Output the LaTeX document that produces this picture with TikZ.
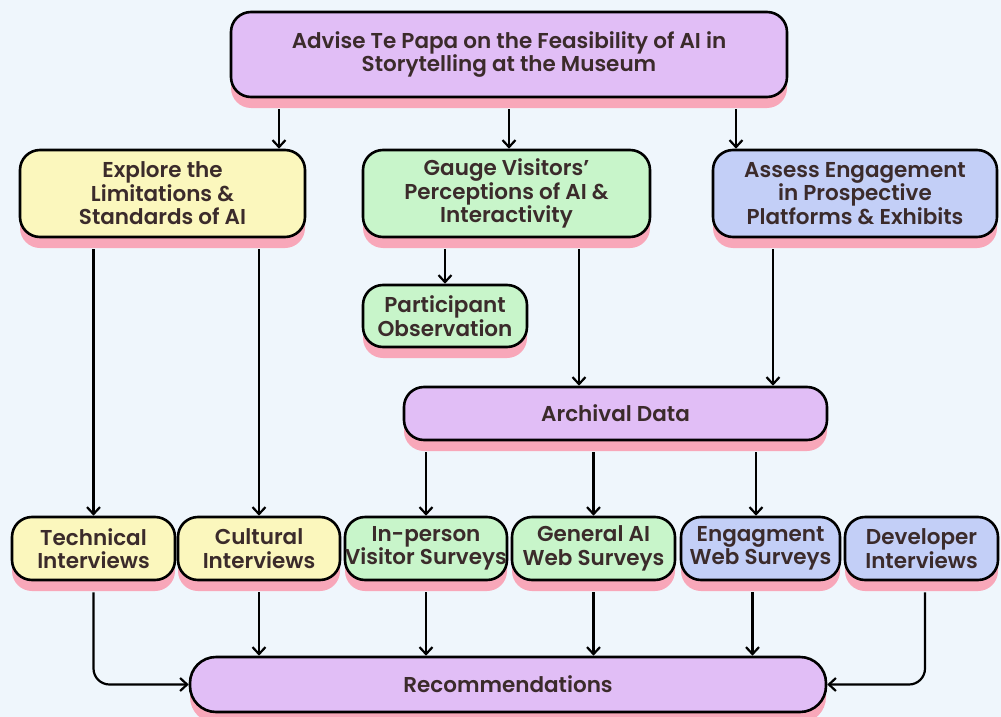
\documentclass[tikz,border=0pt]{standalone}
\usepackage{fontspec}
\setmainfont{Poppins}[BoldFont={Poppins SemiBold}]
\usetikzlibrary{arrows.meta,shadows}

\definecolor{bgblue}{HTML}{EFF6FC}
\definecolor{lilac}{HTML}{E1BEF6}
\definecolor{butter}{HTML}{FBF7BD}
\definecolor{mint}{HTML}{C8F5CA}
\definecolor{periwinkle}{HTML}{C3CFF7}
\definecolor{rosy}{HTML}{F8A7B9}
\definecolor{ink}{HTML}{3B2B2B}

\begin{document}
\begin{tikzpicture}[x=1pt,y=-1pt,
		every node/.style={font=\bfseries\fontsize{21.5}{23.5}\selectfont, text=ink, align=center},
		box/.style={draw=black, line width=2.6pt, rounded corners=20pt, inner sep=0pt,
			drop shadow={shadow xshift=0pt, shadow yshift=-11pt, fill=rosy, opacity=1}},
		purplebox/.style={box, fill=lilac},
		yellowbox/.style={box, fill=butter},
		greenbox/.style={box, fill=mint},
		bluebox/.style={box, fill=periwinkle},
		arr/.style={draw=black, line width=2.2pt, -{Straight Barb[length=7pt,width=13pt,line width=2.2pt]}},
	]
	\fill[bgblue] (0,0) rectangle (1001,717);

	\node[purplebox, minimum width=556pt, minimum height=85pt] (advise) at (509,54.5) {Advise Te Papa on the Feasibility of AI in\\Storytelling at the Museum};

	\node[yellowbox, minimum width=285pt, minimum height=87pt] (explore) at (162.5,193.5) {Explore the\\Limitations \&\\Standards of AI};
	\node[greenbox, minimum width=287pt, minimum height=87pt] (gauge) at (506.5,193.5) {Gauge Visitors’\\Perceptions of AI \&\\Interactivity};
	\node[bluebox, minimum width=284pt, minimum height=87pt] (assess) at (855,193.5) {Assess Engagement\\in Prospective\\Platforms \& Exhibits};

	\node[greenbox, minimum width=164pt, minimum height=62pt] (partobs) at (445,316) {Participant\\Observation};
	\node[purplebox, minimum width=423pt, minimum height=53pt] (archival) at (615.5,413.5) {Archival Data};

	\node[yellowbox, minimum width=163pt, minimum height=63pt] (tech) at (93.5,548.5) {Technical\\Interviews};
	\node[yellowbox, minimum width=162pt, minimum height=63pt] (cult) at (259,548.5) {Cultural\\Interviews};
	\node[greenbox, minimum width=162pt, minimum height=63pt] (inperson) at (426,548.5) {In-person\\Visitor Surveys};
	\node[greenbox, minimum width=163pt, minimum height=63pt] (general) at (593.5,548.5) {General AI\\Web Surveys};
	\node[bluebox, minimum width=159pt, minimum height=63pt] (engag) at (760.5,548.5) {Engagment\\Web Surveys};
	\node[bluebox, minimum width=153pt, minimum height=63pt] (dev) at (921.5,548.5) {Developer\\Interviews};

	\node[purplebox, minimum width=636pt, minimum height=55pt, rounded corners=26pt] (recom) at (508,684.5) {Recommendations};

	% aims
	\draw[arr] ([xshift=116.5pt,yshift=-11pt]explore.north |- advise.south) -- ([xshift=116.5pt]explore.north);
	\draw[arr] ([xshift=2.5pt,yshift=-11pt]gauge.north |- advise.south) -- ([xshift=2.5pt]gauge.north);
	\draw[arr] ([xshift=-119pt,yshift=-11pt]assess.north |- advise.south) -- ([xshift=-119pt]assess.north);

	% methods
	\draw[arr] ([yshift=-11pt]explore.south -| tech.north) -- (tech.north);
	\draw[arr] ([yshift=-11pt]explore.south -| cult.north) -- (cult.north);
	\draw[arr] ([yshift=-11pt]gauge.south -| partobs.north) -- (partobs.north);
	\draw[arr] ([xshift=-36.5pt,yshift=-11pt]archival.north |- gauge.south) -- ([xshift=-36.5pt]archival.north);
	\draw[arr] ([xshift=157.5pt,yshift=-11pt]archival.north |- assess.south) -- ([xshift=157.5pt]archival.north);
	\draw[arr] ([yshift=-11pt]archival.south -| inperson.north) -- (inperson.north);
	\draw[arr] ([yshift=-11pt]archival.south -| general.north) -- (general.north);
	\draw[arr] ([xshift=-4.5pt,yshift=-11pt]engag.north |- archival.south) -- ([xshift=-4.5pt]engag.north);

	% results
	\draw[arr, rounded corners=16pt] ([yshift=-11pt]tech.south) |- (recom.west);
	\draw[arr] ([yshift=-11pt]cult.south) -- (cult.south |- recom.north);
	\draw[arr] ([yshift=-11pt]inperson.south) -- (inperson.south |- recom.north);
	\draw[arr] ([yshift=-11pt]general.south) -- (general.south |- recom.north);
	\draw[arr] ([xshift=-8pt,yshift=-11pt]engag.south) -- ([xshift=-8pt]engag.south |- recom.north);
	\draw[arr, rounded corners=16pt] ([xshift=3.5pt,yshift=-11pt]dev.south) |- (recom.east);
\end{tikzpicture}
\end{document}
